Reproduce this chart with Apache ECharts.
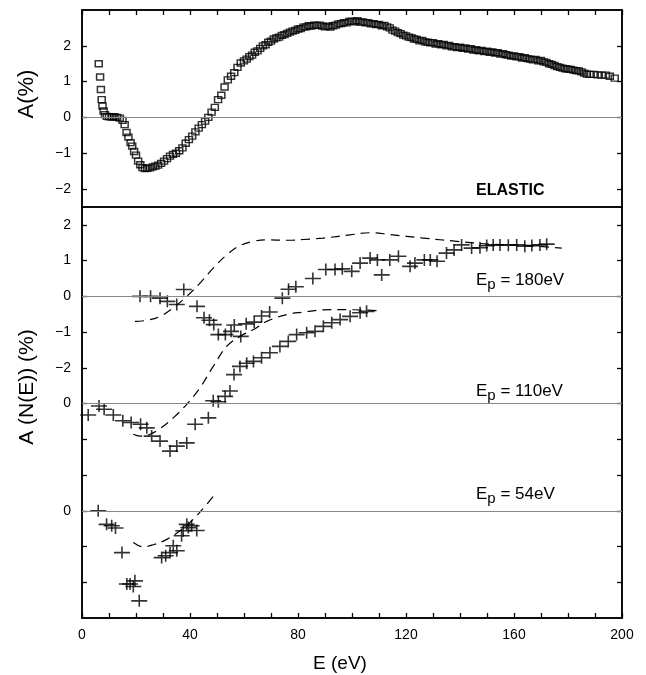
<!DOCTYPE html>
<html>
<head>
<meta charset="utf-8">
<script src="https://cdn.jsdelivr.net/npm/echarts@6/dist/echarts.min.js"></script>
<style>
  html, body { margin: 0; padding: 0; background: #fff; }
  #chart { width: 646px; height: 675px; }
</style>
</head>
<body>
<div id="chart"></div>
<script>
// elastic asymmetry, [E (eV), A (%)]
const elastic = [
    [6.2,1.50],[6.7,1.13],[7.0,0.78],[7.3,0.50],[7.6,0.32],[8.0,0.18],[8.5,0.08],[9.2,0.03],
    [10,0.02],[11,0.01],[12,0.02],[13,0.0],[14,-0.02],[15,-0.08],[15.8,-0.2],[16.5,-0.42],
    [17.2,-0.55],[18,-0.7],[18.6,-0.8],[19.3,-0.95],[20,-1.05],[20.8,-1.22],[21.6,-1.32],
    [22.4,-1.4],[23.3,-1.43],[24.2,-1.42],[25.2,-1.41],[26.2,-1.38],[27.2,-1.36],[28.2,-1.33],
    [29.3,-1.28],[30.4,-1.22],[31.5,-1.15],[32.6,-1.08],[33.7,-1.03],[34.8,-1.0],[36,-0.93],
    [37.2,-0.85],[38.4,-0.72],[39.6,-0.62],[40.8,-0.52],[42,-0.4],[43.2,-0.3],[44.4,-0.2],
    [45.6,-0.1],[46.8,0.0],[48,0.15],[49.2,0.28],[50.4,0.5],[51.6,0.62],[52.8,0.85],[54,1.05],
    [55.2,1.15],[56.4,1.25],[57.6,1.4],[58.8,1.52],
    [60,1.58],[61,1.63],[62,1.70],[63,1.74],[64,1.82],[65,1.86],[66,1.93],[67,2.00],[68,2.03],
    [69,2.10],[70,2.13],[71,2.19],[72,2.22],[73,2.24],[74,2.29],[75,2.31],[76,2.35],[77,2.38],
    [78,2.41],[79,2.43],[80,2.47],[81,2.48],[82,2.52],[83,2.53],[84,2.56],[85,2.55],[86,2.58],
    [87,2.57],[88,2.58],[89,2.55],[90,2.53],[91,2.55],[92,2.52],[93,2.56],[94,2.58],[95,2.61],
    [96,2.62],[97,2.65],[98,2.64],[99,2.68],[100,2.69],[101,2.67],[102,2.70],[103,2.66],
    [104,2.67],[105,2.64],[106,2.65],[107,2.61],[108,2.62],[109,2.59],[110,2.60],[111,2.56],
    [112,2.57],[113,2.53],[114,2.50],[115,2.44],[116,2.41],[117,2.37],[118,2.34],[119,2.30],
    [120,2.28],[121,2.24],[122,2.23],[123,2.19],[124,2.18],[125,2.14],[126,2.15],[127,2.11],
    [128,2.10],[129,2.08],[130,2.09],[131,2.05],[132,2.06],[133,2.03],[134,2.04],[135,2.00],
    [136,2.01],[137,1.97],[138,1.98],[139,1.95],[140,1.96],[141,1.93],[142,1.94],[143,1.91],
    [144,1.92],[145,1.88],[146,1.89],[147,1.86],[148,1.87],[149,1.84],[150,1.85],[151,1.82],
    [152,1.83],[153,1.80],[154,1.81],[155,1.77],[156,1.78],[157,1.75],[158,1.74],[159,1.71],
    [160,1.72],[161,1.69],[162,1.70],[163,1.66],[164,1.67],[165,1.64],[166,1.63],[167,1.61],
    [168,1.62],[169,1.58],[170,1.59],[171,1.55],[172,1.54],[173,1.50],[174,1.48],[175,1.45],
    [176,1.42],[177,1.40],[178,1.38],[179,1.36],[180,1.35],[181,1.34],[182,1.32],[183,1.31],
    [184,1.30],[185,1.27],[186,1.24],[187,1.21],[188,1.20],[189.5,1.20],[191,1.19],[192.5,1.18],
    [194,1.18],[195.5,1.15],[197.3,1.10]
];

// A(N(E)) data, [E (eV), A (%)] relative to each curve's own zero
const cross180 = [
    [21.5,0.0],[25.4,0.0],[28.9,-0.05],[31.6,-0.14],[35.1,-0.23],[37.7,0.19],[42.6,-0.28],
    [45.2,-0.6],[47.2,-0.67],[48.8,-0.79],[50.5,-1.07],[53.1,-1.07],[55.2,-0.98],[56.4,-0.8],
    [58.8,-1.12],[60.8,-0.77],[63.8,-0.72],[66.5,-0.55],[69.5,-0.44],[74.2,-0.05],[76.5,0.2],
    [79.2,0.27],[85.5,0.5],[90.3,0.75],[93.7,0.75],[96.4,0.77],[99.9,0.7],[103,0.93],
    [106.7,1.07],[109.4,1.02],[111,0.6],[114,1.02],[117.2,1.12],[121.5,0.84],[123.3,0.93],
    [126.8,1.02],[129,1.02],[131.5,0.98],[135,1.21],[137.8,1.3],[140.6,1.44],[144.3,1.35],
    [147.4,1.36],[149.9,1.42],[152.3,1.44],[154.8,1.44],[157.9,1.43],[161,1.44],[164,1.4],
    [166.6,1.42],[169.6,1.44],[172.1,1.46]
];
const cross110 = [
    [2.3,-0.32],[6.3,-0.07],[8.2,-0.16],[11.6,-0.32],[15.1,-0.48],[18.2,-0.53],[21.7,-0.58],
    [24,-0.68],[25.8,-0.91],[28.9,-1.05],[32.6,-1.33],[35.1,-1.19],[38.8,-1.1],[41.9,-0.58],
    [46.8,-0.4],[48.6,0.08],[50.5,0.05],[53,0.2],[54.8,0.35],[56.3,0.81],[58.5,1.04],[61,1.13],
    [63.5,1.18],[66.5,1.28],[69.6,1.42],[73.3,1.6],[76.4,1.74],[79.5,1.93],[83.2,1.98],
    [86.3,2.02],[89.4,2.16],[92.5,2.26],[95.6,2.35],[99.3,2.44],[103,2.54],[105.4,2.58]
];
const cross54 = [
    [6,0.0],[9.1,-0.38],[11,-0.42],[12.4,-0.48],[14.8,-1.17],[16.6,-2.05],[17.8,-2.05],
    [19,-2.12],[19.6,-1.96],[21.2,-2.52],[29.5,-1.31],[31,-1.26],[32.6,-1.17],[33.8,-0.98],
    [35.1,-1.12],[36.9,-0.7],[37.5,-0.56],[38.8,-0.38],[39.4,-0.47],[40.6,-0.42],[42.5,-0.55]
];

// calculated curves (dashed)
const calc180 = [
    [19.6,-0.7],[24,-0.67],[28.9,-0.56],[33.8,-0.32],[38.8,0],[43.7,0.37],[48.6,0.79],
    [53.6,1.16],[58.5,1.42],[63.5,1.54],[68.4,1.58],[76,1.57],[82,1.59],[89.4,1.63],
    [99.3,1.72],[106.7,1.78],[114,1.73],[126.4,1.63],[138.8,1.54],[151.1,1.46],[163.5,1.43],
    [177.7,1.35]
];
const calc110 = [
    [19,-0.86],[21.5,-0.91],[25.2,-0.86],[28.9,-0.7],[33.8,-0.4],[38.8,-0.02],[43.7,0.44],
    [48.6,1.04],[53.6,1.6],[58.5,1.88],[63.5,2.07],[68.4,2.3],[75.8,2.49],[82,2.56],
    [89,2.62],[95.6,2.63],[109.7,2.6]
];
const calc54 = [
    [19,-0.89],[22.7,-1.01],[26.4,-0.95],[31.4,-0.8],[36.3,-0.56],[41.2,-0.24],[45.6,0.13],
    [49.3,0.46]
];

// vertical offsets of the three curves in the lower panel
const offsets = { e180: 0, e110: -3, e54: -6 };

const xTickLabels = [0, 40, 80, 120, 160, 200];
const topTickValues = [2, 1, 0, -1, -2];
const topTickLabels = ['2', '1', '0', '\u22121', '\u22122'];
const bottomTickValues = [2, 1, 0, -1, -2, -3, -4, -5, -6, -7, -8];
const bottomTickLabels = ['2', '1', '0', '\u22121', '\u22122', '0', '', '', '0', '', ''];

const FONT = "'Liberation Sans', Arial, sans-serif";
const crossSymbol = 'path://M0,5.2H16V6.8H0Z M7.2,0H8.8V12H7.2Z';

function shift(data, off) {
    return data.map(d => [d[0], d[1] + off]);
}

const chart = echarts.init(document.getElementById('chart'));

const tickStyle = { inside: true, length: 5, lineStyle: { color: '#000', width: 1.3 } };
const lineStyle = { show: true, onZero: false, lineStyle: { color: '#000', width: 1.5 } };
const zeroLine = (values) => ({
    silent: true,
    symbol: 'none',
    label: { show: false },
    lineStyle: { color: '#888', width: 1, type: 'solid' },
    data: values.map(v => ({ yAxis: v }))
});

function crossSeries(data, off) {
    return {
        type: 'scatter', xAxisIndex: 1, yAxisIndex: 2,
        data: shift(data, off),
        symbol: crossSymbol, symbolSize: [16, 12],
        itemStyle: { color: '#000' },
        clip: false
    };
}
function calcSeries(data, off) {
    return {
        type: 'line', xAxisIndex: 1, yAxisIndex: 2,
        data: shift(data, off),
        smooth: 0.4, showSymbol: false,
        lineStyle: { color: '#000', width: 1.2, type: [9, 6] }
    };
}

const option = {
    animation: false,
    backgroundColor: '#fff',
    grid: [
        { left: 82, top: 10, width: 540, height: 197, show: true, borderColor: '#000', borderWidth: 1.5 },
        { left: 82, top: 207, width: 540, height: 411, show: true, borderColor: '#000', borderWidth: 1.5 }
    ],
    xAxis: [
        {
            gridIndex: 0, type: 'value', position: 'top', min: 0, max: 200, interval: 10,
            axisLine: lineStyle, axisTick: tickStyle, axisLabel: { show: false }, splitLine: { show: false }
        },
        {
            gridIndex: 1, type: 'value', position: 'bottom', min: 0, max: 200, interval: 10,
            axisLine: lineStyle, axisTick: tickStyle, splitLine: { show: false },
            axisLabel: {
                customValues: xTickLabels, margin: 10,
                color: '#000', fontSize: 14, fontFamily: FONT
            }
        }
    ],
    yAxis: [
        {
            gridIndex: 0, type: 'value', min: -2.5, max: 3,
            axisLine: lineStyle, splitLine: { show: false },
            axisTick: Object.assign({ customValues: topTickValues }, tickStyle),
            axisLabel: {
                customValues: topTickValues, margin: 11,
                color: '#000', fontSize: 14, fontFamily: FONT,
                formatter: v => topTickLabels[topTickValues.indexOf(v)]
            }
        },
        {
            gridIndex: 0, type: 'value', position: 'right', min: -2.5, max: 3,
            axisLine: lineStyle, splitLine: { show: false }, axisLabel: { show: false },
            axisTick: Object.assign({ customValues: topTickValues }, tickStyle)
        },
        {
            gridIndex: 1, type: 'value', min: -9, max: 2.5,
            axisLine: lineStyle, splitLine: { show: false },
            axisTick: Object.assign({ customValues: bottomTickValues }, tickStyle),
            axisLabel: {
                customValues: bottomTickValues, margin: 11,
                color: '#000', fontSize: 14, fontFamily: FONT,
                formatter: v => bottomTickLabels[bottomTickValues.indexOf(v)]
            }
        },
        {
            gridIndex: 1, type: 'value', position: 'right', min: -9, max: 2.5,
            axisLine: lineStyle, splitLine: { show: false }, axisLabel: { show: false },
            axisTick: Object.assign({ customValues: bottomTickValues }, tickStyle)
        }
    ],
    series: [
        {
            type: 'scatter', xAxisIndex: 0, yAxisIndex: 0,
            data: elastic,
            symbol: 'rect', symbolSize: [7, 6],
            itemStyle: { color: 'rgba(0,0,0,0)', borderColor: '#000', borderWidth: 1.4 },
            markLine: zeroLine([0])
        },
        Object.assign(calcSeries(calc180, offsets.e180), {
            markLine: zeroLine([offsets.e180, offsets.e110, offsets.e54])
        }),
        calcSeries(calc110, offsets.e110),
        calcSeries(calc54, offsets.e54),
        crossSeries(cross180, offsets.e180),
        crossSeries(cross110, offsets.e110),
        crossSeries(cross54, offsets.e54)
    ],
    graphic: [
        {
            type: 'text', x: 27, y: 94, rotation: Math.PI / 2,
            style: { text: 'A(%)', font: '22px ' + FONT, fill: '#000', align: 'center', verticalAlign: 'middle' }
        },
        {
            type: 'text', x: 27, y: 387, rotation: Math.PI / 2,
            style: { text: 'A (N(E)) (%)', font: '21px ' + FONT, fill: '#000', align: 'center', verticalAlign: 'middle' }
        },
        {
            type: 'text', x: 340, y: 664,
            style: { text: 'E (eV)', font: '19px ' + FONT, fill: '#000', align: 'center', verticalAlign: 'middle' }
        },
        {
            type: 'text', x: 476, y: 191,
            style: { text: 'ELASTIC', font: 'bold 16px ' + FONT, fill: '#000', verticalAlign: 'middle' }
        },
        ...[['180eV', 280], ['110eV', 391], ['54eV', 494]].map(([t, y]) => ({
            type: 'text', x: 476, y: y,
            style: {
                text: '{e|E}{p|p}{t| = ' + t + '}',
                verticalAlign: 'middle', fill: '#000',
                rich: {
                    e: { fontSize: 17, fontFamily: FONT, fill: '#000' },
                    p: { fontSize: 15, fontFamily: FONT, fill: '#000', padding: [9, 0, 0, 0] },
                    t: { fontSize: 17, fontFamily: FONT, fill: '#000' }
                }
            }
        }))
    ]
};

chart.setOption(option);
</script>
</body>
</html>
